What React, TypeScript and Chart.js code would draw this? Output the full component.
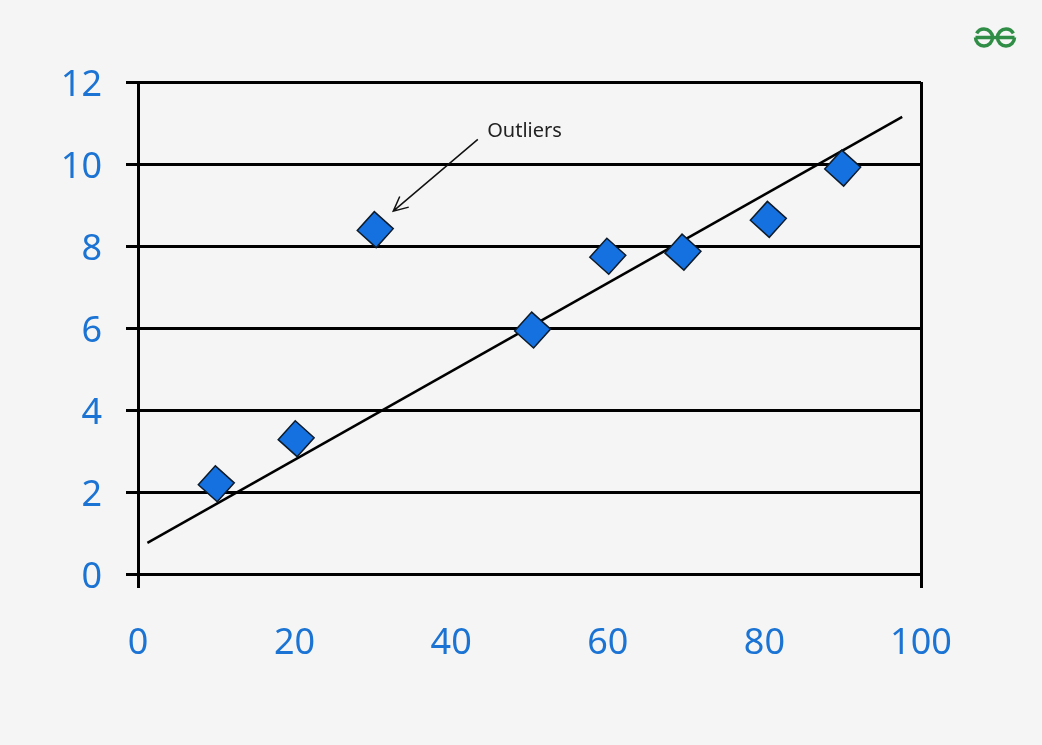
import React, { useEffect, useRef } from "react";
import { Chart, registerables } from "chart.js";

Chart.register(...registerables);

// Data
const xValues = [10, 20.2, 30.3, 50.4, 60, 69.6, 80.5, 90];
const yValues = [2.2, 3.3, 8.4, 5.95, 7.75, 7.85, 8.65, 9.9];
const trendX = [1.2, 97.6];
const trendY = [0.76, 11.15];
const xTickValues = [0, 20, 40, 60, 80, 100];
const yTickValues = [0, 2, 4, 6, 8, 10, 12];
const noteText = "Outliers";
const notePos = [44.6, 10.8];
const arrowFrom = [43.4, 10.6];
const arrowTo = [32.6, 8.85];

const BLUE_TEXT = "#1b73d3";
const FONT = "'Noto Sans', sans-serif";

const decorPlugin = {
  id: "decor",
  beforeDraw(chart: any) {
    const ctx = chart.ctx;
    ctx.save();
    ctx.fillStyle = "#f5f5f5";
    ctx.fillRect(0, 0, chart.width, chart.height);
    ctx.restore();
  },
  afterDraw(chart: any) {
    const ctx = chart.ctx;
    const xs = chart.scales.x;
    const ys = chart.scales.y;
    ctx.save();
    // annotation text
    ctx.fillStyle = "#222";
    ctx.font = `20px ${FONT}`;
    ctx.textAlign = "left";
    ctx.textBaseline = "middle";
    ctx.fillText(noteText, xs.getPixelForValue(notePos[0]), ys.getPixelForValue(notePos[1]));
    // arrow
    const x1 = xs.getPixelForValue(arrowFrom[0]);
    const y1 = ys.getPixelForValue(arrowFrom[1]);
    const x2 = xs.getPixelForValue(arrowTo[0]);
    const y2 = ys.getPixelForValue(arrowTo[1]);
    ctx.strokeStyle = "#111";
    ctx.lineWidth = 1.5;
    ctx.beginPath();
    ctx.moveTo(x1, y1);
    ctx.lineTo(x2, y2);
    const ang = Math.atan2(y1 - y2, x1 - x2);
    const hl = 16;
    ctx.moveTo(x2 + hl * Math.cos(ang + 0.45), y2 + hl * Math.sin(ang + 0.45));
    ctx.lineTo(x2, y2);
    ctx.lineTo(x2 + hl * Math.cos(ang - 0.45), y2 + hl * Math.sin(ang - 0.45));
    ctx.stroke();
    // logo
    ctx.strokeStyle = "#2f8d46";
    ctx.lineWidth = 3.5;
    const cy = 37.5;
    const r = 8.5;
    const lx = 984;
    const rx = 1006;
    ctx.beginPath();
    ctx.moveTo(lx - r, cy);
    ctx.lineTo(rx + r, cy);
    ctx.stroke();
    ctx.beginPath();
    ctx.arc(lx, cy, r, Math.PI, -5 * Math.PI / 6, true);
    ctx.stroke();
    ctx.beginPath();
    ctx.arc(rx, cy, r, 0, -Math.PI / 6, false);
    ctx.stroke();
    ctx.restore();
  },
};

export default function App() {
  const ref = useRef<HTMLCanvasElement | null>(null);
  useEffect(() => {
    document.body.style.margin = "0";
    const canvas = ref.current;
    if (!canvas) return;
    const points = xValues.map((x, i) => ({ x, y: yValues[i] }));
    const trend = trendX.map((x, i) => ({ x, y: trendY[i] }));
    const chart = new Chart(canvas, {
      type: "scatter",
      data: {
        datasets: [
          {
            type: "scatter",
            data: points,
            pointStyle: "rect",
            pointRadius: 18,
            pointHoverRadius: 18,
            rotation: 42,
            backgroundColor: "#1570e0",
            borderColor: "#0d1b2a",
            borderWidth: 1.5,
            order: 0,
          } as any,
          {
            type: "line",
            data: trend,
            borderColor: "#000",
            borderWidth: 2.5,
            pointRadius: 0,
            fill: false,
            order: 1,
          } as any,
        ],
      },
      options: {
        animation: false,
        responsive: false,
        layout: { padding: { left: 0, top: 82, right: 121, bottom: 0 } },
        plugins: { legend: { display: false }, tooltip: { enabled: false } },
        scales: {
          x: {
            type: "linear",
            min: 0,
            max: 100,
            afterFit(scale: any) {
              scale.height = 171;
            },
            afterBuildTicks(scale: any) {
              scale.ticks = xTickValues.map((v) => ({ value: v }));
            },
            border: { display: false },
            grid: {
              color: (c: any) =>
                c.tick && (c.tick.value === 0 || c.tick.value === 100) ? "#000" : "rgba(0,0,0,0)",
              lineWidth: 3,
              tickLength: 14,
            },
            ticks: {
              color: BLUE_TEXT,
              font: { family: FONT, size: 36 },
              padding: 34,
              maxRotation: 0,
              autoSkip: false,
            },
          },
          y: {
            type: "linear",
            min: 0,
            max: 12,
            afterFit(scale: any) {
              scale.width = 138;
            },
            afterBuildTicks(scale: any) {
              scale.ticks = yTickValues.map((v) => ({ value: v }));
            },
            border: { display: false },
            grid: { color: "#000", lineWidth: 3, tickLength: 12 },
            ticks: {
              color: BLUE_TEXT,
              font: { family: FONT, size: 36, lineHeight: "8px" },
              padding: 24,
              autoSkip: false,
              callback: (v: any) => ["", String(v)],
            },
          },
        },
      },
      plugins: [decorPlugin],
    });
    return () => chart.destroy();
  }, []);
  return (
    <div style={{ width: 1042, height: 745 }}>
      <canvas ref={ref} width={1042} height={745} style={{ display: "block" }} />
    </div>
  );
}
